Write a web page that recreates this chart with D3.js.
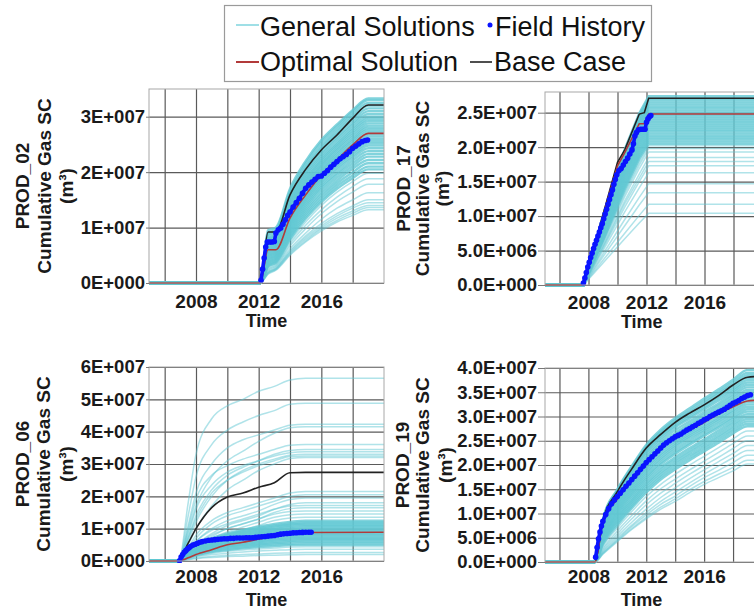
<!DOCTYPE html>
<html>
<head>
<meta charset="UTF-8">
<title>Cumulative Gas SC</title>
<script src="https://cdn.jsdelivr.net/npm/d3@7"></script>
<style>
	body { margin: 0; background: #fff; }
	text { font-family: "Liberation Sans", Arial, sans-serif; }
</style>
</head>
<body>
<script>

	// values in 1E6 m3
	var xGridYears = [2006, 2008, 2010, 2012, 2014, 2016, 2018];
	var xLabelYears = [2008, 2012, 2016];

	// ---- PROD_02 ----
	var years02 = [2005, 2012.1, 2012.6, 2013.1, 2014, 2015, 2016, 2017, 2018, 2019, 2020];
	var base02 = [0, 0, 9.2, 9.2, 15.9, 20.5, 24.0, 26.7, 29.7, 32.1, 32.1];
	var opt02 = [0, 0, 6.0, 6.0, 11.7, 15.9, 19.5, 22.2, 24.9, 27.0, 27.0];
	var ticks02 = [0, 10, 20, 30];
	var hist02 = [[2012.15, 0.5], [2012.25, 2.5], [2012.35, 4.5], [2012.45, 6.5], [2012.55, 7.4], [2012.7, 7.4], [2012.85, 7.4], [2013.0, 7.5],
		[2013.1, 9.0], [2013.25, 9.6], [2013.4, 9.9], [2013.55, 10.6], [2013.7, 11.4], [2013.85, 12.2], [2014.0, 12.8], [2014.2, 13.7],
		[2014.4, 14.5], [2014.6, 15.3], [2014.8, 16.2], [2015.0, 17.1], [2015.2, 17.7], [2015.4, 18.2], [2015.6, 18.7], [2015.8, 19.2],
		[2016.0, 19.3], [2016.2, 19.8], [2016.4, 20.3], [2016.6, 20.9], [2016.8, 21.4], [2017.0, 21.9], [2017.2, 22.4], [2017.4, 22.8],
		[2017.6, 23.2], [2017.8, 23.7], [2018.0, 24.3], [2018.2, 24.7], [2018.4, 25.1], [2018.6, 25.5], [2018.8, 25.7], [2018.95, 25.8]];
	var gen02 = [
		[0, 0, 9.5, 10.0, 17.0, 22.0, 25.8, 28.6, 31.2, 33.3, 33.3],
		[0, 0, 9.0, 9.6, 16.5, 21.6, 25.4, 28.2, 30.9, 33.0, 33.0],
		[0, 0, 8.8, 9.3, 16.0, 21.0, 24.8, 27.7, 30.4, 32.5, 32.5],
		[0, 0, 8.4, 9.0, 15.6, 20.6, 24.3, 27.2, 29.9, 32.0, 32.0],
		[0, 0, 8.0, 8.7, 15.2, 20.2, 23.9, 26.8, 29.4, 31.5, 31.5],
		[0, 0, 7.9, 8.5, 14.8, 19.8, 23.4, 26.3, 28.9, 31.0, 31.0],
		[0, 0, 7.6, 8.3, 14.5, 19.4, 23.0, 25.9, 28.5, 30.5, 30.5],
		[0, 0, 7.3, 8.0, 14.1, 19.0, 22.6, 25.4, 28.0, 30.0, 30.0],
		[0, 0, 7.0, 7.8, 13.8, 18.6, 22.2, 25.0, 27.6, 29.6, 29.6],
		[0, 0, 6.8, 7.6, 13.5, 18.3, 21.9, 24.7, 27.2, 29.2, 29.2],
		[0, 0, 6.6, 7.3, 13.2, 17.9, 21.5, 24.3, 26.8, 28.8, 28.8],
		[0, 0, 6.3, 7.1, 12.9, 17.6, 21.2, 24.0, 26.4, 28.4, 28.4],
		[0, 0, 6.1, 6.9, 12.6, 17.3, 20.9, 23.6, 26.0, 28.0, 28.0],
		[0, 0, 5.9, 6.7, 12.3, 17.0, 20.5, 23.3, 25.7, 27.6, 27.6],
		[0, 0, 5.7, 6.5, 12.0, 16.7, 20.2, 22.9, 25.3, 27.2, 27.2],
		[0, 0, 5.5, 6.3, 11.8, 16.4, 19.9, 22.6, 24.9, 26.8, 26.8],
		[0, 0, 5.3, 6.1, 11.5, 16.1, 19.6, 22.2, 24.5, 26.4, 26.4],
		[0, 0, 5.1, 5.9, 11.2, 15.8, 19.2, 21.9, 24.2, 26.0, 26.0],
		[0, 0, 4.9, 5.7, 10.9, 15.5, 18.9, 21.5, 23.8, 25.6, 25.6],
		[0, 0, 4.7, 5.5, 10.6, 15.1, 18.6, 21.2, 23.4, 25.2, 25.2],
		[0, 0, 4.5, 5.3, 10.3, 14.8, 18.2, 20.8, 23.0, 24.8, 24.8],
		[0, 0, 4.3, 5.1, 10.0, 14.4, 17.8, 20.4, 22.6, 24.3, 24.3],
		[0, 0, 4.1, 4.9, 9.7, 14.0, 17.4, 19.9, 22.1, 23.8, 23.8],
		[0, 0, 3.9, 4.7, 9.4, 13.6, 17.0, 19.5, 21.6, 23.3, 23.3],
		[0, 0, 3.7, 4.5, 9.1, 13.2, 16.5, 19.0, 21.1, 22.8, 22.8],
		[0, 0, 3.5, 4.3, 8.8, 12.8, 16.0, 18.5, 20.6, 22.2, 22.2],
		[0, 0, 3.3, 4.1, 8.5, 12.4, 15.5, 18.0, 20.0, 21.6, 21.6],
		[0, 0, 3.1, 3.9, 8.2, 12.0, 15.0, 17.5, 19.4, 21.0, 21.0],
		[0, 0, 3.0, 3.7, 7.9, 11.6, 14.6, 17.0, 18.9, 20.5, 20.5],
		[0, 0, 2.8, 3.5, 7.5, 11.0, 14.0, 16.4, 18.3, 19.8, 19.8],
		[0, 0, 2.6, 3.3, 7.1, 10.4, 13.2, 15.5, 17.4, 18.8, 18.8],
		[0, 0, 2.4, 3.1, 6.7, 9.8, 12.5, 14.7, 16.4, 17.8, 17.8],
		[0, 0, 2.2, 2.9, 6.2, 9.0, 11.5, 13.5, 15.0, 16.3, 16.3],
		[0, 0, 2.0, 2.7, 5.8, 8.5, 10.7, 12.5, 13.9, 15.0, 15.0],
		[0, 0, 1.9, 2.6, 5.6, 8.2, 10.3, 12.1, 13.5, 14.5, 14.5],
		[0, 0, 1.8, 2.5, 5.4, 7.9, 10.0, 11.7, 13.0, 14.0, 14.0],
		[0, 0, 1.7, 2.4, 5.2, 7.6, 9.7, 11.3, 12.6, 13.6, 13.6],
		[0, 0, 1.6, 2.3, 5.0, 7.4, 9.4, 11.0, 12.2, 13.2, 13.2]
	];

	// ---- PROD_17 ----
	var years17 = [2005, 2007.65, 2009, 2010.5, 2011.5, 2012.15, 2020];
	var years17b = [2005, 2007.65, 2008.5, 2009.5, 2010, 2010.5, 2011.5, 2011.85, 2012.15, 2020];
	var base17 = [0, 0, 6.4, 14.0, 17.8, 19.6, 24.8, 25.0, 27.1, 27.1];
	var opt17 = [0, 0, 6.2, 13.6, 17.3, 19.2, 23.4, 23.4, 24.8, 24.8];
	var ticks17 = [0, 5, 10, 15, 20, 25];
	var hist17 = [[2007.65, 0.3], [2007.75, 1.0], [2007.85, 1.8], [2007.95, 2.6], [2008.05, 3.3], [2008.15, 4.0], [2008.25, 4.6], [2008.35, 5.3],
		[2008.45, 5.9], [2008.55, 6.5], [2008.65, 7.1], [2008.75, 7.7], [2008.85, 8.3], [2008.95, 8.9], [2009.05, 9.6], [2009.15, 10.3],
		[2009.25, 11.0], [2009.35, 11.7], [2009.45, 12.4], [2009.55, 13.1], [2009.65, 13.8], [2009.75, 14.6], [2009.85, 15.3], [2009.95, 16.0],
		[2010.1, 16.6], [2010.25, 16.9], [2010.4, 17.4], [2010.55, 17.9], [2010.7, 18.4], [2010.85, 19.0], [2011.0, 19.6], [2011.1, 20.5],
		[2011.2, 21.6], [2011.3, 22.1], [2011.45, 22.5], [2011.6, 22.6], [2011.75, 22.6], [2011.9, 22.6], [2012.0, 23.6], [2012.1, 24.1],
		[2012.2, 24.4], [2012.3, 24.6]];
	var gen17 = [
		[0, 0, 10.1, 19.7, 24.9, 27.4, 27.4],
		[0, 0, 10.0, 19.5, 24.7, 27.1, 27.1],
		[0, 0, 9.9, 19.3, 24.4, 26.8, 26.8],
		[0, 0, 9.8, 19.1, 24.1, 26.5, 26.5],
		[0, 0, 9.7, 18.9, 23.8, 26.2, 26.2],
		[0, 0, 9.6, 18.6, 23.6, 25.9, 25.9],
		[0, 0, 9.5, 18.4, 23.3, 25.6, 25.6],
		[0, 0, 9.4, 18.2, 23.0, 25.3, 25.3],
		[0, 0, 9.3, 18.0, 22.8, 25.0, 25.0],
		[0, 0, 9.1, 17.8, 22.5, 24.7, 24.7],
		[0, 0, 9.0, 17.5, 22.2, 24.4, 24.4],
		[0, 0, 8.9, 17.3, 21.9, 24.1, 24.1],
		[0, 0, 8.7, 17.0, 21.6, 23.8, 23.8],
		[0, 0, 8.5, 16.8, 21.3, 23.5, 23.5],
		[0, 0, 8.3, 16.5, 21.0, 23.2, 23.2],
		[0, 0, 8.1, 16.2, 20.7, 22.9, 22.9],
		[0, 0, 7.9, 16.0, 20.4, 22.6, 22.6],
		[0, 0, 7.7, 15.7, 20.1, 22.3, 22.3],
		[0, 0, 7.5, 15.4, 19.8, 22.0, 22.0],
		[0, 0, 7.3, 15.1, 19.5, 21.7, 21.7],
		[0, 0, 7.1, 14.8, 19.2, 21.4, 21.4],
		[0, 0, 6.9, 14.5, 18.9, 21.1, 21.1],
		[0, 0, 6.7, 14.2, 18.6, 20.8, 20.8],
		[0, 0, 6.5, 13.9, 18.3, 20.5, 20.5],
		[0, 0, 6.4, 13.5, 17.8, 20.2, 20.2],
		[0, 0, 6.2, 13.2, 17.4, 19.8, 19.8],
		[0, 0, 6.0, 12.8, 16.9, 19.3, 19.3],
		[0, 0, 5.7, 12.2, 16.1, 18.5, 18.5],
		[0, 0, 5.5, 11.8, 15.5, 17.9, 17.9],
		[0, 0, 5.3, 11.3, 15.0, 17.3, 17.3],
		[0, 0, 5.0, 10.6, 14.1, 16.3, 16.3],
		[0, 0, 4.5, 9.5, 12.7, 14.7, 14.7],
		[0, 0, 4.1, 8.6, 11.6, 13.4, 13.4],
		[0, 0, 3.6, 7.5, 10.1, 11.7, 11.7],
		[0, 0, 3.2, 6.7, 9.0, 10.4, 10.4]
	];

	// ---- PROD_06 ----
	var years06 = [2005, 2006.9, 2007.5, 2008, 2009, 2010, 2011, 2012, 2013, 2014, 2015, 2020];
	var base06 = [0, 0, 5.5, 10.0, 16.5, 19.8, 21.0, 22.8, 24.2, 27.3, 27.4, 27.4];
	var opt06 = [0, 0, 1.0, 2.0, 3.5, 5.0, 5.8, 6.8, 7.8, 8.3, 8.8, 8.9];
	var ticks06 = [0, 10, 20, 30, 40, 50, 60];
	var hist06 = [[2006.95, 0.1], [2007.05, 1.2], [2007.15, 2.0], [2007.25, 2.7], [2007.35, 3.2], [2007.45, 3.7], [2007.55, 4.1], [2007.65, 4.5],
		[2007.8, 4.9], [2007.95, 5.2], [2008.1, 5.5], [2008.25, 5.8], [2008.4, 6.0], [2008.6, 6.2], [2008.8, 6.4], [2009.0, 6.5],
		[2009.2, 6.6], [2009.4, 6.7], [2009.6, 6.8], [2009.8, 6.9], [2010.0, 6.9], [2010.2, 7.0], [2010.4, 7.0], [2010.6, 7.1],
		[2010.8, 7.1], [2011.0, 7.1], [2011.2, 7.2], [2011.4, 7.2], [2011.6, 7.2], [2011.8, 7.3], [2012.0, 7.4], [2012.2, 7.5],
		[2012.4, 7.6], [2012.6, 7.7], [2012.8, 7.8], [2013.0, 7.9], [2013.2, 8.1], [2013.4, 8.3], [2013.6, 8.4], [2013.8, 8.5],
		[2014.0, 8.6], [2014.2, 8.7], [2014.4, 8.75], [2014.6, 8.8], [2014.8, 8.85], [2015.0, 8.9], [2015.2, 8.9], [2015.35, 8.9]];
	var gen06 = [
		[0, 0, 18, 33, 44, 48, 50, 52.5, 54, 56, 56.5, 56.5],
		[0, 0, 14, 26, 36, 40.5, 43, 45, 46.5, 48.5, 48.8, 48.8],
		[0, 0, 11, 21, 30, 35, 37.5, 39, 40.5, 42, 42.3, 42.3],
		[0, 0, 9, 17, 26, 31, 34, 37, 39.5, 41.2, 41.5, 41.5],
		[0, 0, 10, 19, 26.5, 29.5, 31.5, 33, 34.5, 35.8, 36, 36],
		[0, 0, 7, 14, 22, 26.5, 29, 31, 33, 34.2, 34.5, 34.5],
		[0, 0, 8, 16, 23.5, 27.5, 29.5, 31, 32.5, 33.5, 33.8, 33.8],
		[0, 0, 6, 12, 20, 25, 28, 30, 31.5, 32.7, 33, 33],
		[0, 0, 7, 13, 21, 25, 27.5, 29.5, 31, 32.3, 32.5, 32.5],
		[0, 0, 5, 10, 17, 22, 25, 28, 30, 31.7, 32, 32],
		[0, 0, 4, 8, 12.5, 15, 16.5, 18, 19.5, 21, 21.5, 21.5],
		[0, 0, 3.5, 7, 11.5, 14, 15.5, 17, 18.5, 20, 20.5, 20.5],
		[0, 0, 3, 6, 10, 12.5, 14, 15.5, 17.5, 19, 19.5, 19.5],
		[0, 0, 2.5, 5, 8.5, 11, 12.5, 14, 16, 17.5, 18, 18],
		[0, 0, 3, 6, 9.5, 11.5, 13, 14.5, 16, 17, 17.2, 17.2],
		[0, 0, 2, 4.5, 7.5, 10, 11.5, 13, 15, 16.2, 16.5, 16.5],
		[0, 0, 2.5, 5, 8, 10, 11.5, 13, 14.5, 15.3, 15.5, 15.5],
		[0, 0, 2, 4, 7, 9, 10.5, 12, 13.5, 14.3, 14.5, 14.5],
		[0, 0, 1.5, 3.5, 6, 8, 9.5, 11, 12.5, 13.3, 13.5, 13.5],
		[0, 0, 2.5, 4.4, 6.9, 8.5, 9.6, 10.6, 11.5, 12.1, 12.5, 12.5],
		[0, 0, 2.4, 4.2, 6.6, 8.2, 9.2, 10.2, 11.0, 11.6, 12.0, 12.0],
		[0, 0, 2.3, 4.1, 6.4, 7.9, 8.9, 9.9, 10.7, 11.3, 11.6, 11.6],
		[0, 0, 2.2, 3.9, 6.2, 7.6, 8.6, 9.5, 10.3, 10.9, 11.2, 11.2],
		[0, 0, 2.2, 3.8, 5.9, 7.3, 8.3, 9.2, 9.9, 10.5, 10.8, 10.8],
		[0, 0, 2.1, 3.6, 5.7, 7.1, 8.0, 8.8, 9.6, 10.1, 10.4, 10.4],
		[0, 0, 2.0, 3.5, 5.5, 6.8, 7.7, 8.5, 9.2, 9.7, 10.0, 10.0],
		[0, 0, 1.9, 3.4, 5.3, 6.5, 7.4, 8.2, 8.8, 9.3, 9.6, 9.6],
		[0, 0, 1.8, 3.2, 5.1, 6.3, 7.1, 7.8, 8.5, 8.9, 9.2, 9.2],
		[0, 0, 1.8, 3.1, 4.8, 6.0, 6.8, 7.5, 8.1, 8.5, 8.8, 8.8],
		[0, 0, 1.7, 2.9, 4.6, 5.7, 6.5, 7.1, 7.7, 8.1, 8.4, 8.4],
		[0, 0, 1.6, 2.8, 4.4, 5.4, 6.2, 6.8, 7.4, 7.8, 8.0, 8.0],
		[0, 0, 1.5, 2.7, 4.2, 5.2, 5.9, 6.5, 7.0, 7.4, 7.6, 7.6],
		[0, 0, 1.4, 2.5, 4.0, 4.9, 5.5, 6.1, 6.6, 7.0, 7.2, 7.2],
		[0, 0, 1.4, 2.4, 3.7, 4.6, 5.2, 5.8, 6.3, 6.6, 6.8, 6.8],
		[0, 0, 1.3, 2.2, 3.5, 4.4, 4.9, 5.4, 5.9, 6.2, 6.4, 6.4],
		[0, 0, 1.2, 2.1, 3.3, 4.1, 4.6, 5.1, 5.5, 5.8, 6.0, 6.0],
		[0, 0, 1.1, 1.9, 3.0, 3.7, 4.2, 4.7, 5.1, 5.3, 5.5, 5.5],
		[0, 0, 1.0, 1.8, 2.8, 3.4, 3.9, 4.3, 4.6, 4.9, 5.0, 5.0],
		[0, 0, 0.9, 1.5, 2.4, 3.0, 3.4, 3.7, 4.0, 4.3, 4.4, 4.4],
		[0, 0, 0.7, 1.3, 2.0, 2.4, 2.8, 3.1, 3.3, 3.5, 3.6, 3.6],
		[0, 0, 0.5, 0.9, 1.4, 1.8, 2.0, 2.2, 2.4, 2.5, 2.6, 2.6],
		[0, 0, 0.4, 0.7, 1.1, 1.4, 1.5, 1.7, 1.8, 1.9, 2.0, 2.0]
	];

	// ---- PROD_19 ----
	var years19 = [2005, 2008.45, 2009, 2010, 2011, 2012, 2013, 2014, 2015, 2016, 2017, 2018, 2019, 2020];
	var base19 = [0, 0, 8.5, 14.5, 19.2, 23.5, 26.3, 28.8, 30.7, 32.4, 34.3, 36.5, 38.1, 38.3];
	var opt19 = [0, 0, 8.2, 13.0, 16.7, 20.3, 23.8, 25.5, 27.2, 28.8, 30.5, 32.0, 33.2, 33.4];
	var ticks19 = [0, 5, 10, 15, 20, 25, 30, 35, 40];
	var hist19 = [[2008.5, 1.0], [2008.6, 3.0], [2008.7, 4.8], [2008.8, 6.2], [2008.9, 7.4], [2009.0, 8.4], [2009.2, 9.8], [2009.4, 11.0],
		[2009.6, 12.0], [2009.8, 12.8], [2010.0, 13.5], [2010.2, 14.2], [2010.4, 14.9], [2010.6, 15.6], [2010.8, 16.3], [2011.0, 17.0],
		[2011.2, 17.7], [2011.4, 18.4], [2011.6, 19.1], [2011.8, 19.8], [2012.0, 20.5], [2012.2, 21.1], [2012.4, 21.7], [2012.6, 22.3],
		[2012.8, 22.9], [2013.0, 23.5], [2013.2, 24.1], [2013.4, 24.6], [2013.6, 25.0], [2013.8, 25.4], [2014.0, 25.8], [2014.2, 26.1],
		[2014.4, 26.4], [2014.6, 26.8], [2014.8, 27.2], [2015.0, 27.5], [2015.2, 27.9], [2015.4, 28.2], [2015.6, 28.6], [2015.8, 28.9],
		[2016.0, 29.3], [2016.2, 29.6], [2016.4, 30.0], [2016.6, 30.3], [2016.8, 30.6], [2017.0, 30.9], [2017.2, 31.2], [2017.4, 31.5],
		[2017.6, 31.9], [2017.8, 32.3], [2018.0, 32.7], [2018.2, 33.0], [2018.4, 33.3], [2018.6, 33.7], [2018.8, 34.0], [2019.0, 34.3],
		[2019.2, 34.5]];
	var gen19 = [
		[0, 0, 8.7, 15.0, 19.8, 24.2, 27.3, 29.7, 31.7, 33.7, 35.6, 37.6, 39.6, 39.6],
		[0, 0, 8.6, 14.8, 19.5, 23.8, 26.9, 29.3, 31.2, 33.2, 35.1, 37.1, 39.0, 39.0],
		[0, 0, 8.5, 14.6, 19.3, 23.5, 26.6, 28.9, 30.8, 32.7, 34.7, 36.6, 38.5, 38.5],
		[0, 0, 8.4, 14.4, 19.0, 23.2, 26.2, 28.5, 30.4, 32.3, 34.2, 36.1, 38.0, 38.0],
		[0, 0, 8.2, 14.2, 18.7, 22.9, 25.9, 28.1, 30.0, 31.9, 33.8, 35.6, 37.5, 37.5],
		[0, 0, 8.1, 14.1, 18.5, 22.6, 25.5, 27.8, 29.6, 31.5, 33.3, 35.2, 37.0, 37.0],
		[0, 0, 7.9, 13.7, 18.1, 22.1, 25.0, 27.2, 29.0, 30.9, 32.7, 34.7, 36.5, 36.5],
		[0, 0, 7.6, 13.3, 17.6, 21.6, 24.5, 26.6, 28.5, 30.4, 32.2, 34.2, 36.0, 36.0],
		[0, 0, 7.3, 12.9, 17.2, 21.2, 24.1, 26.2, 28.1, 29.9, 31.7, 33.7, 35.5, 35.5],
		[0, 0, 7.0, 12.6, 16.8, 20.7, 23.6, 25.8, 27.6, 29.4, 31.3, 33.2, 35.0, 35.0],
		[0, 0, 6.7, 12.2, 16.4, 20.3, 23.2, 25.3, 27.2, 29.0, 30.8, 32.7, 34.5, 34.5],
		[0, 0, 6.5, 11.9, 16.0, 19.9, 22.8, 24.9, 26.8, 28.6, 30.4, 32.2, 34.0, 34.0],
		[0, 0, 6.2, 11.5, 15.6, 19.4, 22.3, 24.5, 26.4, 28.1, 29.9, 31.8, 33.5, 33.5],
		[0, 0, 6.0, 11.2, 15.2, 19.0, 21.9, 24.1, 26.0, 27.7, 29.5, 31.3, 33.0, 33.0],
		[0, 0, 5.7, 10.8, 14.8, 18.5, 21.4, 23.7, 25.6, 27.3, 29.1, 30.9, 32.5, 32.5],
		[0, 0, 5.4, 10.5, 14.4, 18.1, 21.0, 23.2, 25.1, 26.9, 28.6, 30.4, 32.0, 32.0],
		[0, 0, 5.2, 10.1, 14.0, 17.6, 20.5, 22.7, 24.6, 26.4, 28.1, 29.9, 31.5, 31.5],
		[0, 0, 5.0, 9.8, 13.6, 17.2, 20.1, 22.3, 24.2, 26.0, 27.7, 29.5, 31.0, 31.0],
		[0, 0, 4.8, 9.4, 13.1, 16.7, 19.5, 21.6, 23.5, 25.3, 27.1, 29.0, 30.5, 30.5],
		[0, 0, 4.6, 9.1, 12.7, 16.2, 19.0, 21.1, 23.0, 24.8, 26.6, 28.5, 30.0, 30.0],
		[0, 0, 4.3, 8.7, 12.3, 15.8, 18.5, 20.6, 22.5, 24.3, 26.1, 28.0, 29.5, 29.5],
		[0, 0, 4.1, 8.4, 11.9, 15.3, 18.0, 20.1, 22.0, 23.8, 25.6, 27.5, 29.0, 29.0],
		[0, 0, 3.9, 8.0, 11.5, 14.8, 17.5, 19.6, 21.5, 23.3, 25.1, 27.0, 28.5, 28.5],
		[0, 0, 3.6, 7.6, 11.1, 14.3, 17.0, 19.1, 21.0, 22.8, 24.6, 26.5, 28.0, 28.0],
		[0, 0, 3.2, 7.0, 10.4, 13.5, 16.0, 18.1, 20.0, 21.8, 23.6, 25.4, 27.0, 27.0],
		[0, 0, 2.8, 6.4, 9.6, 12.6, 15.1, 17.1, 19.0, 20.8, 22.6, 24.4, 26.0, 26.0],
		[0, 0, 2.5, 5.8, 8.9, 11.8, 14.2, 16.2, 18.1, 19.9, 21.6, 23.4, 25.0, 25.0],
		[0, 0, 2.2, 5.3, 8.2, 10.9, 13.3, 15.3, 17.2, 19.0, 20.7, 22.4, 24.0, 24.0],
		[0, 0, 2.0, 4.9, 7.6, 10.2, 12.5, 14.4, 16.3, 18.1, 19.8, 21.5, 23.0, 23.0],
		[0, 0, 1.8, 4.6, 7.3, 9.7, 11.9, 13.6, 15.6, 17.4, 18.9, 20.5, 22.0, 22.0],
		[0, 0, 1.7, 4.4, 6.9, 9.2, 11.3, 13.0, 14.9, 16.6, 18.1, 19.5, 21.0, 21.0],
		[0, 0, 1.6, 4.2, 6.7, 8.9, 10.9, 12.5, 14.3, 16.0, 17.4, 18.8, 20.2, 20.2]
	];

	var legendItems = ["General Solutions", "Field History", "Optimal Solution", "Base Case"];

	var COLORS = {gen: "#62c8d3", base: "#222222", opt: "#b23a3a", hist: "#0a14ff", grid: "#5a5a5a", frame: "#a8a8a8"};

	// dense: index range of general solutions packed into the solid band
	var panels = [
		{name: "PROD_02", x0: 149, x1: 384, y0: 89, y1: 283, yMax: 35, dec: 0, ticks: ticks02, years: years02, gens: gen02, dense: [0, 29],
			byears: years02, base: base02, opt: opt02, hist: hist02, titleX: [22, 44, 66], xlabY: 301, timeY: 321, gap: 4, curve: d3.curveMonotoneX},
		{name: "PROD_17", x0: 545, x1: 762.5, y0: 92, y1: 285, yMax: 28, dec: 1, ticks: ticks17, years: years17, gens: gen17, dense: [0, 24],
			byears: years17b, base: base17, opt: opt17, hist: hist17, titleX: [403, 422.5, 442.5], xlabY: 302, timeY: 322, gap: 8, curve: d3.curveLinear},
		{name: "PROD_06", x0: 149, x1: 384, y0: 367, y1: 561, yMax: 60, dec: 0, ticks: ticks06, years: years06, gens: gen06, dense: [19, 38],
			byears: years06, base: base06, opt: opt06, hist: hist06, titleX: [22, 43, 66], xlabY: 576, timeY: 600, gap: 4, curve: d3.curveMonotoneX},
		{name: "PROD_19", x0: 545, x1: 762, y0: 368, y1: 562, yMax: 40, dec: 1, ticks: ticks19, years: years19, gens: gen19, dense: [0, 24],
			byears: years19, base: base19, opt: opt19, hist: hist19, titleX: [402, 422.5, 445], xlabY: 576, timeY: 600, gap: 8, curve: d3.curveMonotoneX}
	];

	var svg = d3.select("body").append("svg").attr("width", 754).attr("height", 611);

	function fmtExp(v, dec) {
		var real = v * 1e6;
		var e = real === 0 ? 0 : Math.floor(Math.log10(real) + 1e-9);
		var m = real / Math.pow(10, e);
		return m.toFixed(dec) + "E+" + ("00" + e).slice(-3);
	}

	panels.forEach(function (p, i) {
		var x = d3.scaleLinear().domain([2005, 2020]).range([p.x0, p.x1]);
		var y = d3.scaleLinear().domain([0, p.yMax]).range([p.y1, p.y0]);
		var g = svg.append("g");

		g.append("clipPath").attr("id", "clip" + i)
			.append("rect").attr("x", p.x0).attr("y", p.y0 - 2).attr("width", p.x1 - p.x0).attr("height", p.y1 - p.y0 + 4);

		// grid
		g.append("g").attr("transform", "translate(0," + p.y1 + ")")
			.call(d3.axisBottom(x).tickValues(xGridYears).tickSize(-(p.y1 - p.y0)).tickFormat(""))
			.call(function (a) {
				a.select(".domain").remove();
				a.selectAll("line").attr("stroke", COLORS.grid).attr("stroke-width", 1.2);
			});
		g.append("g").attr("transform", "translate(" + p.x0 + ",0)")
			.call(d3.axisLeft(y).tickValues(p.ticks).tickSize(-(p.x1 - p.x0)).tickFormat(""))
			.call(function (a) {
				a.select(".domain").remove();
				a.selectAll("line").attr("stroke", COLORS.grid).attr("stroke-width", 1.2);
			});

		var plot = g.append("g").attr("clip-path", "url(#clip" + i + ")");

		var line = d3.line().curve(p.curve)
			.x(function (d) { return x(d[0]); })
			.y(function (d) { return y(d[1]); });

		function pairs(ys, vals) {
			return ys.map(function (t, k) { return [t, vals[k]]; });
		}
		function isDense(k) { return k >= p.dense[0] && k < p.dense[1]; }

		plot.selectAll("path.gen").data(p.gens).enter().append("path")
			.attr("class", "gen")
			.attr("d", function (d) { return line(pairs(p.years, d)); })
			.attr("fill", "none").attr("stroke", COLORS.gen)
			.attr("stroke-width", function (d, k) { return isDense(k) ? 2.4 : 1.5; })
			.attr("stroke-opacity", function (d, k) { return isDense(k) ? 0.8 : 0.5; });

		plot.append("path").attr("d", line(pairs(p.byears, p.base)))
			.attr("fill", "none").attr("stroke", COLORS.base).attr("stroke-width", 1.6);
		plot.append("path").attr("d", line(pairs(p.byears, p.opt)))
			.attr("fill", "none").attr("stroke", COLORS.opt).attr("stroke-width", 1.6);

		plot.append("path").attr("d", d3.line().x(function (d) { return x(d[0]); }).y(function (d) { return y(d[1]); })(p.hist))
			.attr("fill", "none").attr("stroke", COLORS.hist).attr("stroke-width", 3.6);
		plot.selectAll("circle").data(p.hist).enter().append("circle")
			.attr("cx", function (d) { return x(d[0]); })
			.attr("cy", function (d) { return y(d[1]); })
			.attr("r", 2.8).attr("fill", COLORS.hist);

		// frame
		g.append("rect").attr("x", p.x0).attr("y", p.y0).attr("width", p.x1 - p.x0).attr("height", p.y1 - p.y0)
			.attr("fill", "none").attr("stroke", COLORS.frame).attr("stroke-width", 1);

		// y axis labels
		g.append("g").attr("transform", "translate(" + p.x0 + ",0)")
			.call(d3.axisLeft(y).tickValues(p.ticks).tickSize(p.gap - 1).tickPadding(1)
				.tickFormat(function (v) { return fmtExp(v, p.dec); }))
			.call(function (a) {
				a.select(".domain").remove();
				a.selectAll("line").attr("stroke", "#777");
				a.selectAll("text").attr("font-size", "18.5px").attr("font-weight", "bold").attr("fill", "#1a1a1a")
					.attr("font-family", "'Liberation Sans', Arial, sans-serif");
			});

		// x axis labels
		g.append("g").attr("transform", "translate(0," + p.xlabY + ")")
			.call(d3.axisBottom(x).tickValues(xLabelYears).tickSize(0).tickPadding(0).tickFormat(d3.format("d")))
			.call(function (a) {
				a.select(".domain").remove();
				a.selectAll("text").attr("dy", "0.35em").attr("font-size", "19px").attr("font-weight", "bold").attr("fill", "#1a1a1a")
					.attr("font-family", "'Liberation Sans', Arial, sans-serif");
			});

		g.append("text").attr("x", (p.x0 + p.x1) / 2 + (i % 2 ? -12 : 0)).attr("y", p.timeY).attr("dy", "0.35em")
			.attr("text-anchor", "middle").attr("font-size", "18px").attr("font-weight", "bold").attr("fill", "#1a1a1a")
			.text("Time");

		var cy = (p.y0 + p.y1) / 2;
		[p.name, "Cumulative Gas SC", "(m\u00B3)"].forEach(function (t, k) {
			g.append("text")
				.attr("transform", "translate(" + p.titleX[k] + "," + cy + ") rotate(-90)")
				.attr("text-anchor", "middle").attr("dominant-baseline", "central")
				.attr("font-size", "19px").attr("font-weight", "bold").attr("fill", "#1a1a1a")
				.text(t);
		});
	});

	// legend
	var lg = svg.append("g");
	lg.append("rect").attr("x", 224.5).attr("y", 5.5).attr("width", 427).attr("height", 76)
		.attr("fill", "#fff").attr("stroke", "#9a9a9a").attr("stroke-width", 1.2);
	lg.append("line").attr("x1", 236).attr("x2", 259).attr("y1", 25).attr("y2", 25).attr("stroke", "#9fdfe6").attr("stroke-width", 2);
	lg.append("circle").attr("cx", 490).attr("cy", 25).attr("r", 2.5).attr("fill", COLORS.hist);
	lg.append("line").attr("x1", 236).attr("x2", 259).attr("y1", 62).attr("y2", 62).attr("stroke", COLORS.opt).attr("stroke-width", 2);
	lg.append("line").attr("x1", 470).attr("x2", 492).attr("y1", 62).attr("y2", 62).attr("stroke", COLORS.base).attr("stroke-width", 1.6);
	var lpos = [[260, 36], [495, 36], [260, 71], [494, 71]];
	legendItems.forEach(function (t, k) {
		lg.append("text").attr("x", lpos[k][0]).attr("y", lpos[k][1])
			.attr("font-size", "27px").attr("fill", "#111").text(t);
	});

</script>
</body>
</html>
